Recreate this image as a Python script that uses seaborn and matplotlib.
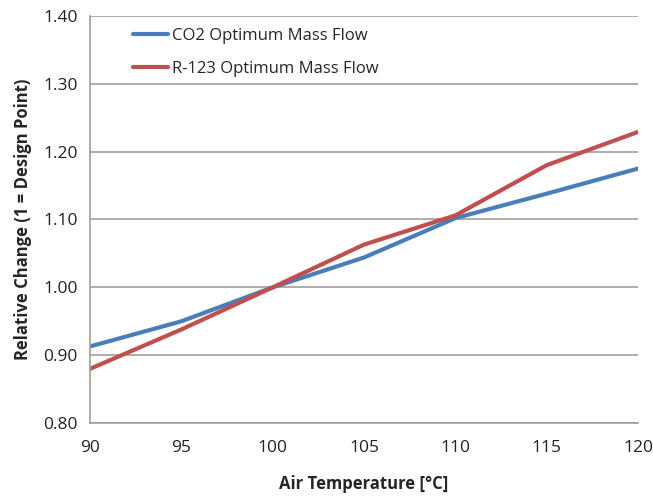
import pandas as pd
import seaborn as sns
import matplotlib.pyplot as plt

air_temp = [90, 95, 100, 105, 110, 115, 120]
co2_flow = [0.913, 0.950, 1.000, 1.044, 1.102, 1.138, 1.175]
r123_flow = [0.880, 0.938, 1.000, 1.063, 1.106, 1.180, 1.229]
series_names = ['CO2 Optimum Mass Flow', 'R-123 Optimum Mass Flow']
yticks = [0.80, 0.90, 1.00, 1.10, 1.20, 1.30, 1.40]
xticks = [90, 95, 100, 105, 110, 115, 120]

df = pd.DataFrame({
    'temp': air_temp * 2,
    'value': co2_flow + r123_flow,
    'series': [series_names[0]] * len(air_temp) + [series_names[1]] * len(air_temp),
})

sns.set_style('white')
plt.rcParams['font.family'] = ['Open Sans', 'DejaVu Sans']

fig = plt.figure(figsize=(6.53, 4.96), dpi=100)
ax = fig.add_axes([0.138, 0.147, 0.839, 0.821])

sns.lineplot(data=df, x='temp', y='value', hue='series',
             palette=['#4a7ebb', '#c0504d'], linewidth=3, ax=ax)

ax.set_xlim(90, 120)
ax.set_ylim(0.80, 1.40)
ax.set_xticks(xticks)
ax.set_yticks(yticks)
ax.set_yticklabels(['%.2f' % v for v in yticks])
ax.grid(axis='y', color='#a39d98', linewidth=1.2)
ax.set_axisbelow(True)
for s in ['top', 'right']:
    ax.spines[s].set_visible(False)
for s in ['left', 'bottom']:
    ax.spines[s].set_color('#a39d98')
    ax.spines[s].set_linewidth(1.2)
ax.tick_params(axis='both', which='both', direction='out', length=5,
               color='#a39d98', labelsize=12.5, colors='#222222')
ax.tick_params(axis='x', pad=7)
ax.tick_params(axis='y', pad=4)

ax.set_xlabel('Air Temperature [°C]', fontsize=12, fontweight='bold', labelpad=14)
ax.set_ylabel('Relative Change (1 = Design Point)', fontsize=12, fontweight='bold', labelpad=8)

leg = ax.legend(loc='upper left', frameon=False, fontsize=12, handlelength=2.1,
                handletextpad=0.25, labelspacing=1.05, bbox_to_anchor=(0.05, 1.008))
leg.set_title(None)

fig.savefig('out.png', dpi=100)
